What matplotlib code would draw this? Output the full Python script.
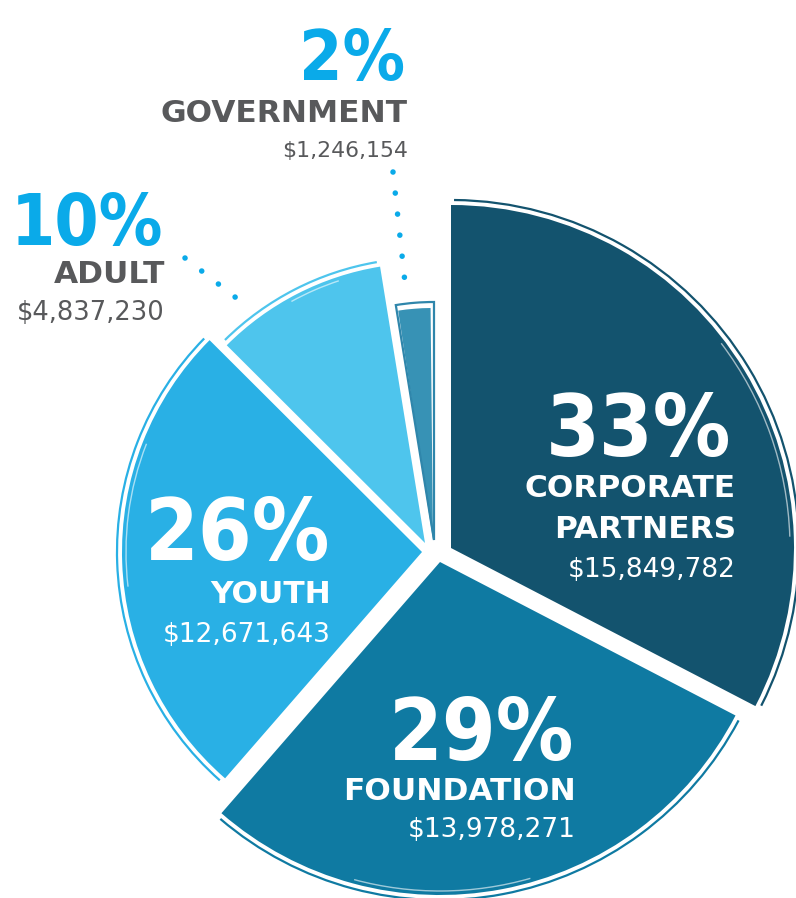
import numpy as np
import matplotlib
matplotlib.use('Agg')
import matplotlib.pyplot as plt
from matplotlib.patches import Wedge, Arc

# ---- data ----
categories = ['CORPORATE\nPARTNERS', 'FOUNDATION', 'YOUTH', 'ADULT', 'GOVERNMENT']
values = [15849782, 13978271, 12671643, 4837230, 1246154]
pct_labels = ['33%', '29%', '26%', '10%', '2%']
amount_labels = ['$15,849,782', '$13,978,271', '$12,671,643', '$4,837,230', '$1,246,154']

# ---- style ----
colors = ['#13536e', '#0f7aa2', '#29b0e5', '#4ec5ed', '#3792b5']
centers = [(451, 548), (440, 562), (422, 552), (425, 543), (433, 540)]
radii = [348, 338, 305, 285, 238]
W, H = 796, 898
GREY = '#58595b'
CYAN = '#0aaae9'
LBL_FONT = ['DejaVu Sans']
PCT_KW = dict(family=['DejaVu Sans'], fontstretch='condensed', fontweight='bold')

fig = plt.figure(figsize=(W / 100, H / 100), dpi=100)
ax = fig.add_axes([0, 0, 1, 1])
ax.set_xlim(0, W)
ax.set_ylim(0, H)
ax.set_aspect('equal')
ax.axis('off')

def Y(y):
    return H - y

total = float(sum(values))
start = 90.0
for i, v in enumerate(values):
    span = v / total * 360.0
    t2 = start
    t1 = start - span
    start = t1
    cx, cy = centers[i]
    r = radii[i]
    c = colors[i]
    if i == 4:
        ax.add_patch(Wedge((cx, Y(cy)), r - 6, t1 + 0.6, t2 - 0.6, fc=c, ec='none', zorder=2))
        ax.add_patch(Wedge((cx + 1, Y(cy)), r, t1, t2, fc='none', ec='#2f86ab', lw=1.6, zorder=2))
        continue
    ax.add_patch(Wedge((cx, Y(cy)), r - 5, t1, t2, fc=c, ec='none', zorder=2))
    ax.add_patch(Arc((cx, Y(cy)), 2 * r, 2 * r, theta1=t1 + 0.5, theta2=t2 - 0.5,
                     color=c, lw=1.6, zorder=2))
    ax.add_patch(Arc((cx, Y(cy)), 2 * (r - 9), 2 * (r - 9), theta1=t1 + span * 0.25,
                     theta2=t1 + span * 0.55, color='white', lw=1.0, alpha=0.6, zorder=3))

def pct(x, y, s, color, size):
    ax.text(x, Y(y), s, color=color, fontsize=size, ha='right', va='baseline',
            zorder=5, **PCT_KW)

def lbl(x, y, s, color, size, bold=True):
    ax.text(x, Y(y), s, color=color, fontsize=size, fontweight='bold' if bold else 'normal',
            family=LBL_FONT, ha='right', va='baseline', linespacing=1.15, zorder=5)

# Corporate
pct(731, 456, pct_labels[0], 'white', 62)
lbl(736, 497, 'CORPORATE', 'white', 22.5)
lbl(736, 538, 'PARTNERS', 'white', 22.5)
lbl(736, 577, amount_labels[0], 'white', 19, bold=False)
# Foundation
pct(574, 760, pct_labels[1], 'white', 62)
lbl(576, 800, categories[1], 'white', 22.5)
lbl(576, 837, amount_labels[1], 'white', 19, bold=False)
# Youth
pct(330, 560, pct_labels[2], 'white', 62)
lbl(331, 603, categories[2], 'white', 22.5)
lbl(331, 642, amount_labels[2], 'white', 19, bold=False)
# Adult (outside)
pct(163, 245, pct_labels[3], CYAN, 51)
lbl(165, 283, categories[3], GREY, 22.5)
lbl(165, 320, amount_labels[3], GREY, 18.5, bold=False)
# Government (outside)
pct(405, 80, pct_labels[4], CYAN, 50)
lbl(408, 122, categories[4], GREY, 22.5)
lbl(408, 157, amount_labels[4], GREY, 15.8, bold=False)

# ---- dotted leaders ----
ax.plot([393, 406], [Y(172), Y(292)], color=CYAN, lw=4, ls=(0, (0.01, 3.8)),
        dash_capstyle='round', zorder=4)
ax.plot([185, 244], [Y(258), Y(304)], color=CYAN, lw=4, ls=(0, (0.01, 3.8)),
        dash_capstyle='round', zorder=4)

fig.savefig('out.png', dpi=100, facecolor='white')
